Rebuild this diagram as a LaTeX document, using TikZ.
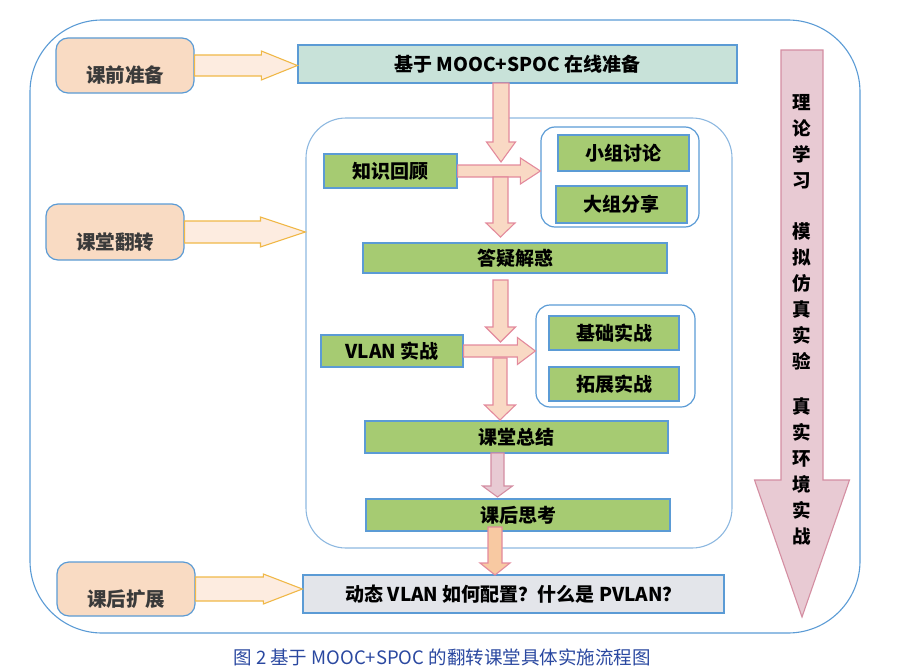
\documentclass[tikz,border=0pt]{standalone}
\usepackage{fontspec}
\usetikzlibrary{calc}
\newfontfamily\cjk{Noto Sans CJK SC}
\definecolor{bord}{HTML}{5B9BD5}
\definecolor{bordlight}{HTML}{8DB8E0}
\definecolor{peach}{HTML}{F9DBC3}
\definecolor{lpeach}{HTML}{FDECE0}
\definecolor{orng}{HTML}{F0B848}
\definecolor{teal}{HTML}{C8E2D9}
\definecolor{grn}{HTML}{A6CB72}
\definecolor{gry}{HTML}{E3E5EA}
\definecolor{apeach}{HTML}{F9D9C4}
\definecolor{apink}{HTML}{E38A9C}
\definecolor{pinkf}{HTML}{E8CAD3}
\definecolor{pinkb}{HTML}{D48EA2}
\definecolor{orf}{HTML}{F8C9A2}
\definecolor{capblue}{HTML}{2A48A0}
\definecolor{txtg}{HTML}{3A3A3A}
\newcommand{\barDown}[6]{%
 \draw[#1] let \p1=(#2), \p2=(#3) in
 ({\x1-#4pt},\y1) -- ({\x1-#4pt},{\y2+#6pt}) -- ({\x1-#5pt},{\y2+#6pt}) -- (\x1,\y2)
 -- ({\x1+#5pt},{\y2+#6pt}) -- ({\x1+#4pt},{\y2+#6pt}) -- ({\x1+#4pt},\y1) -- cycle;}
\newcommand{\barRight}[6]{%
 \draw[#1] let \p1=(#2), \p2=(#3) in
 (\x1,{\y1+#4pt}) -- ({\x2-#6pt},{\y1+#4pt}) -- ({\x2-#6pt},{\y1+#5pt}) -- (\x2,\y1)
 -- ({\x2-#6pt},{\y1-#5pt}) -- ({\x2-#6pt},{\y1-#4pt}) -- (\x1,{\y1-#4pt}) -- cycle;}
\tikzset{
 stagebox/.style={draw=bord, line width=1.2pt, fill=peach, rounded corners=12pt, inner sep=0pt},
 stagetext/.style={font=\cjk\bfseries\fontsize{19.5}{21}\selectfont, text=txtg, inner sep=0pt, yshift=-10pt},
 gbox/.style={draw=bord, line width=1.3pt, fill=grn, font=\cjk\bfseries\fontsize{19}{21}\selectfont, inner sep=0pt},
 groupbox/.style={draw=bord, line width=1.2pt, rounded corners=14pt},
 larrow/.style={draw=orng, line width=1.1pt, fill=lpeach, line join=miter},
 parrow/.style={draw=apink, line width=1.1pt, fill=apeach},
 pinkarrow/.style={draw=pinkb, line width=1.1pt, fill=pinkf},
 vtext/.style={font=\cjk\bfseries\fontsize{18.5}{26}\selectfont, align=center, inner sep=0pt}
}
\begin{document}
\begin{tikzpicture}[x=1pt,y=-1pt]
\useasboundingbox (0,0) rectangle (899,669);
% outer frame
\node[draw=bord, line width=1.1pt, rounded corners=72pt, minimum width=830pt, minimum height=613pt, inner sep=0pt] (outer) at (445,326.5) {};
% inner frame
\node[draw=bordlight, line width=1.1pt, rounded corners=40pt, minimum width=426pt, minimum height=430pt, inner sep=0pt] (inner) at (519,333) {};
% stage boxes
\node[stagebox, minimum width=138pt, minimum height=55pt, label={[stagetext]center:课前准备}] (pre) at (125,65.5) {};
\node[stagebox, minimum width=138pt, minimum height=56pt, label={[stagetext]center:课堂翻转}] (flip) at (115,232) {};
\node[stagebox, minimum width=138pt, minimum height=54pt, label={[stagetext]center:课后扩展}] (post) at (126,589) {};
% main boxes
\node[gbox, fill=teal, minimum width=439pt, minimum height=38pt] (top) at (517.5,64) {基于 MOOC+SPOC 在线准备};
\node[gbox, minimum width=133pt, minimum height=34pt] (zs) at (390.5,171) {知识回顾};
\node[groupbox, minimum width=158pt, minimum height=100pt] (g1) at (620,177) {};
\node[gbox, minimum width=131pt, minimum height=36pt] (xz) at (623.5,153) {小组讨论};
\node[gbox, minimum width=131pt, minimum height=37pt] (dz) at (621.5,204.5) {大组分享};
\node[gbox, minimum width=304pt, minimum height=30pt] (dy) at (515,258) {答疑解惑};
\node[gbox, minimum width=142pt, minimum height=32pt] (vl) at (392,351) {VLAN 实战};
\node[groupbox, minimum width=159pt, minimum height=102pt] (g2) at (615.5,356) {};
\node[gbox, minimum width=130pt, minimum height=34pt] (jc) at (614,333) {基础实战};
\node[gbox, minimum width=130pt, minimum height=34pt] (tz) at (614,384) {拓展实战};
\node[gbox, minimum width=303pt, minimum height=32pt] (kt) at (516.5,437) {课堂总结};
\node[gbox, minimum width=304pt, minimum height=32pt] (ks) at (518,515) {课后思考};
\node[gbox, fill=gry, minimum width=421pt, minimum height=38pt] (dt) at (513.5,594) {动态 VLAN 如何配置？什么是 PVLAN？};
% left block arrows
\barRight{larrow}{pre.east}{top.west}{10.5}{14.5}{36}
\barRight{larrow}{flip.east}{inner.west}{11}{15}{45}
\barRight{larrow}{post.east}{dt.west}{12}{15}{39}
% inner arrows
\coordinate (d1s) at (501,83);   \coordinate (d1t) at (501,162);
\coordinate (d2s) at (500.5,177); \coordinate (d2t) at (500.5,237);
\coordinate (d3s) at (500.5,280); \coordinate (d3t) at (500.5,342);
\coordinate (d4s) at (500,358);  \coordinate (d4t) at (500,420);
\coordinate (d5s) at (497.5,453); \coordinate (d5t) at (497.5,497);
\coordinate (d6s) at (495,527);  \coordinate (d6t) at (495,575);
\barDown{parrow}{d1s}{d1t}{8}{14.5}{20}
\barRight{parrow}{zs.east}{g1.west}{6}{13}{20}
\barDown{parrow}{d2s}{d2t}{7.5}{14.5}{14}
\barDown{parrow}{d3s}{d3t}{7.5}{15}{15}
\barRight{parrow}{vl.east}{g2.west}{6}{13.5}{18}
\barDown{parrow}{d4s}{d4t}{7}{15.5}{15}
\barDown{pinkarrow}{d5s}{d5t}{6.5}{15}{11}
\barDown{draw=apink, line width=1.1pt, fill=orf}{d6s}{d6t}{7}{15}{12}
% big arrow
\coordinate (bs) at (802,50); \coordinate (bt) at (802,617);
\barDown{pinkarrow}{bs}{bt}{21}{47.5}{137}
\node[vtext] (v1) at (802,142) {理\\论\\学\\习};
\node[vtext] (v2) at (802,296) {模\\拟\\仿\\真\\实\\验};
\node[vtext] (v3) at (802,471) {真\\实\\环\\境\\实\\战};
% caption
\node[font=\cjk\fontsize{18.5}{21}\selectfont, text=capblue, inner sep=0pt] (cap) at (442,657) {图 2 基于 MOOC+SPOC 的翻转课堂具体实施流程图};
\end{tikzpicture}
\end{document}
